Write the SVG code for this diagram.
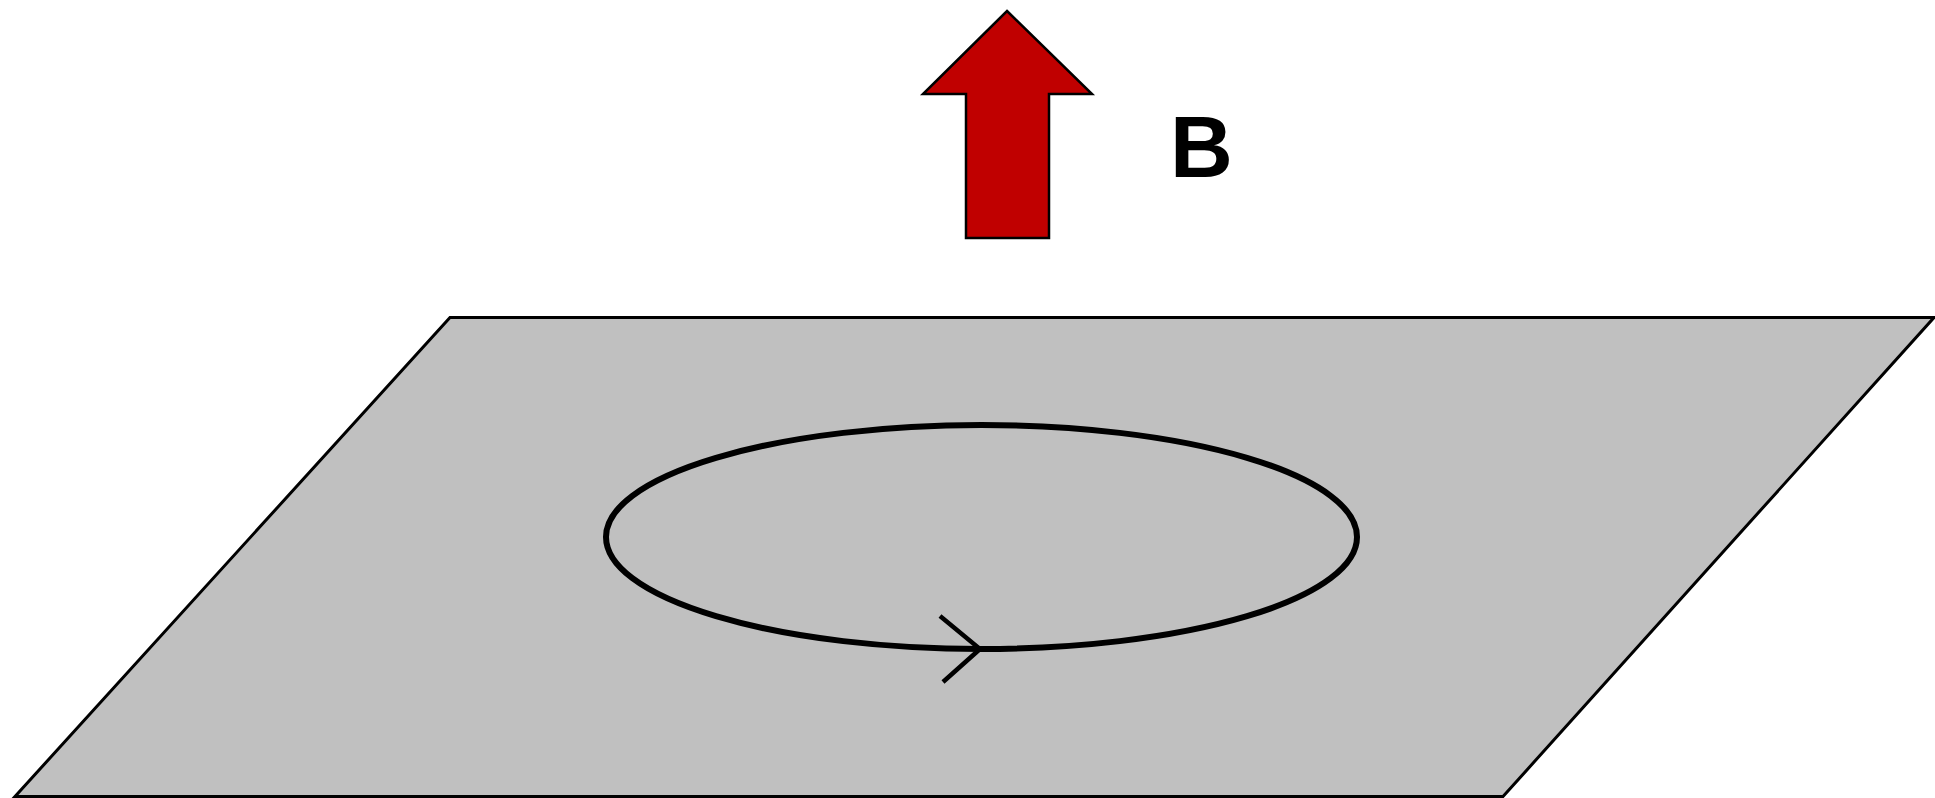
<svg xmlns="http://www.w3.org/2000/svg" width="1935" height="798" viewBox="0 0 1935 798">
<style>
.plane{fill:#c0c0c0;stroke:#000;stroke-width:3;stroke-linejoin:miter}
.loop{fill:none;stroke:#000;stroke-width:6}
.chev{fill:none;stroke:#000;stroke-width:4.5;stroke-linejoin:miter}
.barrow{fill:#c00000;stroke:#000;stroke-width:2.5}
.lbl{font-family:"Liberation Sans",Arial,sans-serif;font-weight:bold;font-size:87px;fill:#000}
</style>
<rect width="1935" height="798" fill="#fff"/>
<g id="plane"><polygon class="plane" points="450,317.5 1934,317.5 1503,796.5 15,796.5"/></g>
<g id="field-arrow"><polygon class="barrow" points="1007,11 1092,94 1049,94 1049,238 966,238 966,94 923,94"/></g>
<g id="label-B"><text class="lbl" x="1170" y="177">B</text></g>
<g id="current-loop">
<ellipse class="loop" cx="981.5" cy="537" rx="375.5" ry="112"/>
</g>
<g id="connectors">
<polyline class="chev" points="940,616 980,649 943,682"/>
</g>
</svg>
